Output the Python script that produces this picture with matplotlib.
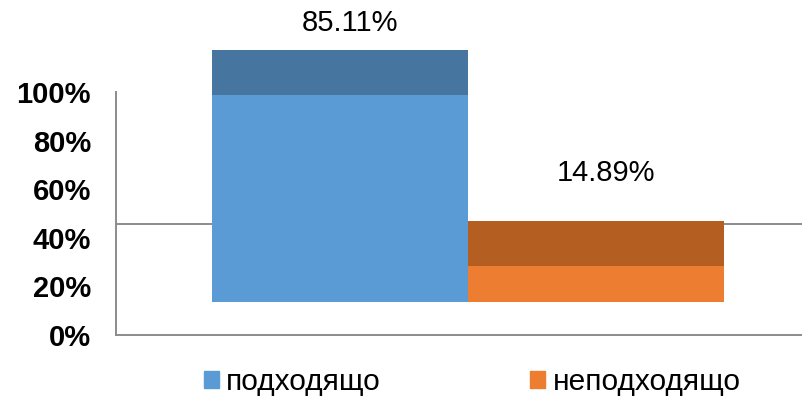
import numpy as np
import matplotlib.pyplot as plt
from matplotlib.patches import Patch

plt.rcParams['font.family'] = ['Liberation Sans', 'DejaVu Sans']

categories = ["подходящо", "неподходящо"]
values = [85.11, 14.89]
labels = ["85.11%", "14.89%"]
yticks = [0, 20, 40, 60, 80, 100]
ytick_labels = ["0%", "20%", "40%", "60%", "80%", "100%"]

front_colors = ["#5B9BD5", "#ED7D31"]
top_colors = ["#46759F", "#B45E22"]
base = 13.6      # fake 3D floor offset
depth = 18.5     # visible top face height
label_gap = [11.0, 19.7]
wall_line = 45.7

fig = plt.figure(figsize=(8.02, 4.0), dpi=100)
ax = fig.add_axes([116/802, 65/400, 686/802, 335/400])

x = np.arange(len(categories))
ax.bar(x, values, width=1.0, bottom=base, color=front_colors, zorder=3)
tops = [base + v for v in values]
ax.bar(x, [depth]*len(x), width=1.0, bottom=tops, color=top_colors, zorder=3)

ax.axhline(wall_line, color="#8c8c8c", lw=1.4, zorder=1)

for i, v in enumerate(values):
    ax.annotate(labels[i], (x[i], base + v + depth + label_gap[i]), xytext=(7, 0),
                textcoords="offset points", ha="center", va="center", fontsize=21)

ax.set_xlim(-0.875, -0.875 + 686/256)
ax.set_ylim(0, 335/2.43)
ax.set_yticks(yticks)
ax.set_yticklabels(ytick_labels, fontsize=21, fontweight="bold")
ax.tick_params(axis="y", length=0, pad=18)
ax.set_xticks([])
for s in ["top", "right"]:
    ax.spines[s].set_visible(False)
ax.spines["left"].set_bounds(0, 100)
ax.spines["left"].set_color("#8c8c8c")
ax.spines["bottom"].set_color("#8c8c8c")
ax.spines["left"].set_linewidth(1.4)
ax.spines["bottom"].set_linewidth(1.4)

handles = [Patch(color=c) for c in front_colors]
fig.legend(handles, categories, loc="center", bbox_to_anchor=(0.589, 0.045), ncol=2,
           frameon=False, fontsize=21.5, handlelength=0.5, handleheight=0.5,
           handletextpad=0.25, columnspacing=5.0)

fig.savefig("out.png", dpi=100)
